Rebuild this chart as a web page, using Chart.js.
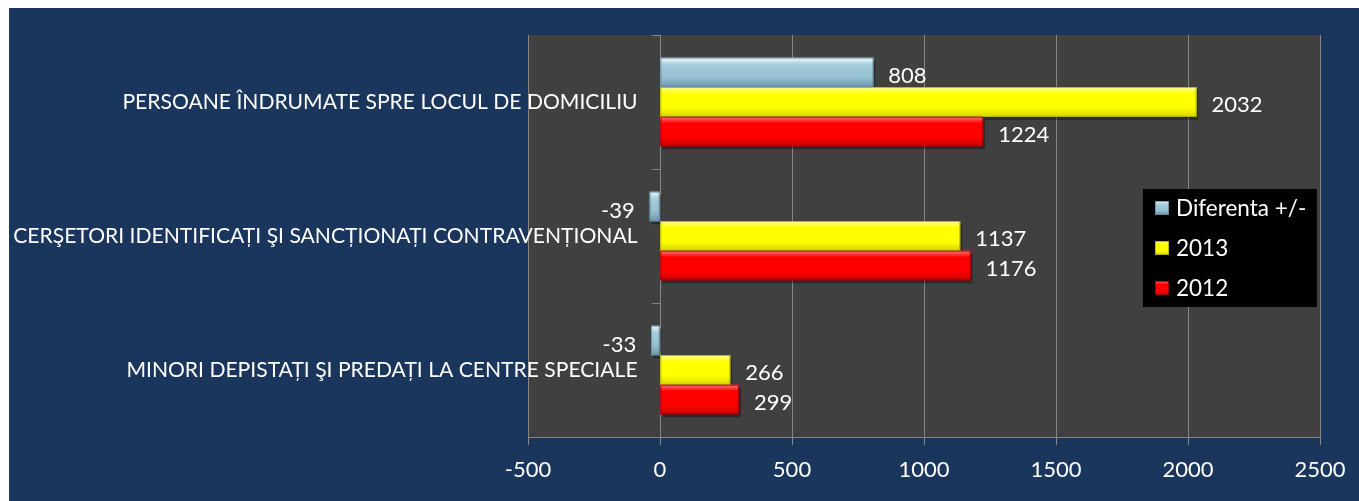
<!DOCTYPE html>
<html><head><meta charset="utf-8">
<script src="https://cdn.jsdelivr.net/npm/chart.js@4.4.1/dist/chart.umd.min.js"></script>
<style>
html,body{margin:0;padding:0;background:#fff;overflow:hidden}
#wrap{position:absolute;left:9px;top:8px;width:1350px;height:493px;background:#1a365d}
</style></head><body>
<div id="wrap"><canvas id="c"></canvas></div>
<script>
const categories = [
  "PERSOANE ÎNDRUMATE SPRE LOCUL DE DOMICILIU",
  "CERŞETORI IDENTIFICAȚI ŞI SANCȚIONAȚI CONTRAVENȚIONAL",
  "MINORI DEPISTAȚI ŞI PREDAȚI LA CENTRE SPECIALE"
];
const seriesNames = ["Diferenta +/-", "2013", "2012"];
const diferenta = [808, -39, -33];
const values2013 = [2032, 1137, 266];
const values2012 = [1224, 1176, 299];
const xTicks = [-500, 0, 500, 1000, 1500, 2000, 2500];

const FONT = 'Lato';
const palettes = [
  {base:'#93bccf', top:'#f2fcff', mid:'#a8cedf', bot:'#6a93a6', edge:'#5f8799'},
  {base:'#ffff00', top:'#ffff9a', mid:'#ffff00', bot:'#d4d400', edge:'#a8a800'},
  {base:'#ff0000', top:'#ff7a7a', mid:'#ff0000', bot:'#c80000', edge:'#8a0000'}
];

function barRect(el){
  const l = Math.min(el.x, el.base), r = Math.max(el.x, el.base);
  return {l, r, t: el.y - el.height/2, b: el.y + el.height/2};
}
function fillGlossy(ctx, l, t, w, h, p){
  const g = ctx.createLinearGradient(0, t, 0, t + h);
  g.addColorStop(0, p.top);
  g.addColorStop(0.22, p.mid);
  g.addColorStop(0.7, p.base);
  g.addColorStop(1, p.bot);
  ctx.fillStyle = g;
  ctx.fillRect(l, t, w, h);
  ctx.strokeStyle = p.edge;
  ctx.lineWidth = 0.8;
  ctx.strokeRect(l + 0.4, t + 0.4, Math.max(w - 0.8, 0), h - 0.8);
}

const barStyle = {
  id: 'barStyle',
  beforeDraw(chart){
    const {ctx, chartArea: a} = chart;
    ctx.save();
    ctx.fillStyle = '#404040';
    ctx.fillRect(a.left, a.top, a.right - a.left, a.bottom - a.top);
    ctx.restore();
  },
  beforeDatasetsDraw(chart){
    const ctx = chart.ctx;
    ctx.save();
    chart.data.datasets.forEach((ds, i) => {
      chart.getDatasetMeta(i).data.forEach(el => {
        const r = barRect(el);
        ctx.fillStyle = 'rgba(0,0,0,0.35)';
        ctx.fillRect(r.l + 2, r.t + 3, r.r - r.l, r.b - r.t);
      });
    });
    ctx.restore();
  },
  afterDatasetsDraw(chart){
    const ctx = chart.ctx;
    ctx.save();
    chart.data.datasets.forEach((ds, i) => {
      const p = palettes[i];
      chart.getDatasetMeta(i).data.forEach((el, j) => {
        const r = barRect(el);
        fillGlossy(ctx, r.l, r.t, r.r - r.l, r.b - r.t, p);
        const v = ds.data[j];
        ctx.fillStyle = '#ffffff';
        ctx.font = '22px ' + FONT;
        ctx.textBaseline = 'middle';
        if (v >= 0) {
          ctx.textAlign = 'left';
          ctx.fillText(String(v), el.x + 15, el.y + 3);
        } else {
          ctx.textAlign = 'right';
          ctx.fillText(String(v), el.x - 15, el.y + 4);
        }
      });
    });
    ctx.restore();
  },
  afterDraw(chart){
    const {ctx, chartArea: a} = chart;
    const bx = a.right - 177, by = a.top + 154, bw = 174, bh = 118;
    ctx.save();
    ctx.fillStyle = '#000000';
    ctx.fillRect(bx, by, bw, bh);
    ctx.font = '22.5px ' + FONT;
    ctx.textBaseline = 'middle';
    ctx.textAlign = 'left';
    chart.data.datasets.forEach((ds, i) => {
      const cy = by + 19 + i * 40;
      fillGlossy(ctx, bx + 12, cy - 7, 14, 14, palettes[i]);
      ctx.fillStyle = '#ffffff';
      ctx.fillText(ds.label, bx + 33, cy + 1);
    });
    ctx.restore();
  }
};

const seriesData = [diferenta, values2013, values2012];
new Chart(document.getElementById('c'), {
  type: 'bar',
  data: {
    labels: categories,
    datasets: seriesNames.map((n, i) => ({
      label: n,
      data: seriesData[i],
      backgroundColor: palettes[i].base,
      borderWidth: 0,
      categoryPercentage: 0.66,
      barPercentage: 1.0
    }))
  },
  options: {
    indexAxis: 'y',
    responsive: true,
    maintainAspectRatio: false,
    animation: false,
    layout: {padding: {left: 519, right: 39, top: 27, bottom: 0}},
    plugins: {legend: {display: false}, tooltip: {enabled: false}},
    scales: {
      x: {
        type: 'linear',
        min: xTicks[0],
        max: xTicks[xTicks.length - 1],
        afterBuildTicks(s){ s.ticks = xTicks.map(v => ({value: v})); },
        grid: {color: '#868686', lineWidth: 1, tickLength: 8},
        border: {color: '#868686', width: 1},
        ticks: {color: '#ffffff', font: {family: FONT, size: 22}, padding: 12,
                callback: v => String(v)},
        afterFit(s){ s.height = 64; }
      },
      y: {
        position: {x: 0},
        grid: {drawOnChartArea: false, color: '#868686', tickLength: 8, offset: true},
        border: {color: '#868686', width: 1},
        ticks: {display: false}
      },
      yLabels: {
        axis: 'y',
        type: 'category',
        position: {x: -85},
        offset: true,
        grid: {display: false},
        border: {display: false},
        ticks: {color: '#ffffff', font: {family: FONT, size: 21.1}}
      }
    }
  },
  plugins: [barStyle]
});
</script>
</body></html>
